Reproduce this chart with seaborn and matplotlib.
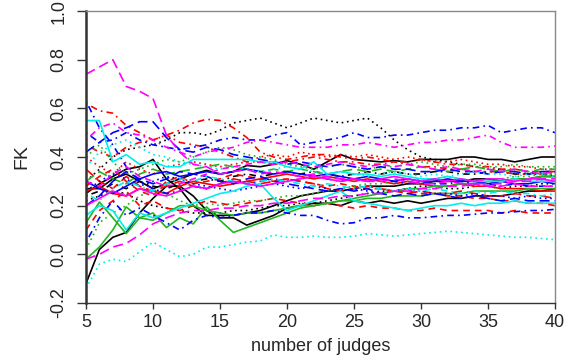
import matplotlib
matplotlib.use("Agg")
import matplotlib.pyplot as plt
import seaborn as sns

sns.set_style("ticks")
plt.rcParams["font.family"] = ["Liberation Sans", "DejaVu Sans"]

# number of judges on the x axis
judges = list(range(5, 41))

# FK agreement per panel size, one list per simulated item
fk_black_solid_a = [-0.12, 0.02, 0.07, 0.09, 0.17, 0.23, 0.28, 0.28, 0.24, 0.18, 0.15, 0.15, 0.12, 0.14, 0.16, 0.19, 0.20, 0.21,
                    0.21, 0.20, 0.22, 0.21, 0.22, 0.21, 0.22, 0.21, 0.22, 0.23, 0.23, 0.24, 0.24, 0.24, 0.25, 0.26, 0.26, 0.27]
fk_black_solid_b = [0.25, 0.29, 0.32, 0.35, 0.36, 0.39, 0.31, 0.27, 0.20, 0.16, 0.16, 0.16, 0.17, 0.18, 0.20, 0.22, 0.24, 0.25,
                    0.26, 0.26, 0.27, 0.28, 0.28, 0.28, 0.29, 0.29, 0.30, 0.30, 0.30, 0.31, 0.31, 0.30, 0.31, 0.31, 0.32, 0.32]
fk_black_solid_c = [0.27, 0.27, 0.31, 0.33, 0.30, 0.27, 0.29, 0.31, 0.33, 0.345, 0.33, 0.34, 0.365, 0.36, 0.37, 0.385, 0.37, 0.35,
                    0.38, 0.41, 0.39, 0.385, 0.38, 0.385, 0.38, 0.39, 0.39, 0.39, 0.40, 0.40, 0.39, 0.39, 0.38, 0.39, 0.40, 0.40]
fk_black_dotted_a = [0.30, 0.35, 0.40, 0.43, 0.44, 0.45, 0.47, 0.50, 0.50, 0.49, 0.51, 0.54, 0.55, 0.56, 0.54, 0.52, 0.54, 0.56,
                     0.55, 0.54, 0.55, 0.56, 0.52, 0.47, 0.43, 0.40, 0.39, 0.38, 0.37, 0.36, 0.35, 0.35, 0.34, 0.33, 0.33, 0.32]
fk_black_dotted_b = [0.22, 0.24, 0.26, 0.25, 0.22, 0.20, 0.19, 0.18, 0.17, 0.17, 0.17, 0.18, 0.18, 0.19, 0.20, 0.20, 0.21, 0.21,
                     0.22, 0.23, 0.24, 0.25, 0.26, 0.26, 0.27, 0.28, 0.28, 0.27, 0.27, 0.28, 0.28, 0.27, 0.28, 0.28, 0.29, 0.29]
fk_black_dashdot = [0.24, 0.26, 0.29, 0.27, 0.30, 0.28, 0.27, 0.29, 0.30, 0.31, 0.30, 0.32, 0.33, 0.32, 0.33, 0.34, 0.33, 0.34,
                    0.33, 0.32, 0.33, 0.34, 0.33, 0.34, 0.33, 0.33, 0.34, 0.34, 0.33, 0.33, 0.34, 0.34, 0.33, 0.33, 0.34, 0.34]
fk_red_dashdot_a = [0.62, 0.59, 0.58, 0.53, 0.50, 0.47, 0.49, 0.46, 0.45, 0.44, 0.42, 0.40, 0.38, 0.38, 0.37, 0.38, 0.39, 0.40,
                    0.39, 0.38, 0.38, 0.37, 0.37, 0.38, 0.37, 0.36, 0.36, 0.35, 0.35, 0.34, 0.34, 0.34, 0.33, 0.33, 0.33, 0.33]
fk_red_dashdot_b = [0.45, 0.42, 0.40, 0.44, 0.46, 0.47, 0.49, 0.51, 0.54, 0.555, 0.55, 0.52, 0.48, 0.42, 0.40, 0.39, 0.40, 0.41,
                    0.41, 0.40, 0.39, 0.40, 0.39, 0.38, 0.38, 0.39, 0.38, 0.37, 0.37, 0.36, 0.36, 0.35, 0.35, 0.34, 0.34, 0.34]
fk_red_dashed_a = [0.28, 0.32, 0.35, 0.30, 0.26, 0.24, 0.30, 0.32, 0.29, 0.30, 0.31, 0.33, 0.32, 0.31, 0.30, 0.31, 0.30, 0.29,
                   0.28, 0.29, 0.28, 0.27, 0.27, 0.26, 0.26, 0.25, 0.25, 0.24, 0.24, 0.23, 0.23, 0.22, 0.22, 0.21, 0.21, 0.20]
fk_red_dashed_b = [0.10, 0.18, 0.22, 0.26, 0.20, 0.22, 0.19, 0.18, 0.20, 0.22, 0.21, 0.20, 0.21, 0.22, 0.23, 0.22, 0.21, 0.20,
                   0.21, 0.20, 0.19, 0.20, 0.19, 0.19, 0.18, 0.18, 0.19, 0.18, 0.18, 0.18, 0.18, 0.17, 0.18, 0.17, 0.17, 0.17]
fk_red_longdash = [0.35, 0.30, 0.27, 0.32, 0.28, 0.26, 0.28, 0.30, 0.28, 0.27, 0.29, 0.31, 0.30, 0.29, 0.30, 0.31, 0.30, 0.29,
                   0.27, 0.26, 0.27, 0.28, 0.27, 0.26, 0.25, 0.26, 0.25, 0.25, 0.26, 0.25, 0.24, 0.24, 0.25, 0.24, 0.24, 0.23]
fk_red_dotted = [0.40, 0.36, 0.33, 0.38, 0.35, 0.33, 0.36, 0.37, 0.38, 0.37, 0.36, 0.37, 0.38, 0.40, 0.41, 0.40, 0.42, 0.41,
                 0.40, 0.41, 0.40, 0.41, 0.40, 0.39, 0.40, 0.39, 0.38, 0.38, 0.39, 0.38, 0.37, 0.37, 0.36, 0.36, 0.35, 0.35]
fk_red_solid = [0.26, 0.28, 0.25, 0.24, 0.27, 0.26, 0.25, 0.28, 0.30, 0.29, 0.28, 0.29, 0.30, 0.31, 0.32, 0.33, 0.32, 0.31,
                0.32, 0.31, 0.30, 0.31, 0.30, 0.29, 0.30, 0.29, 0.28, 0.28, 0.29, 0.28, 0.28, 0.27, 0.27, 0.27, 0.26, 0.26]
fk_green_solid_a = [-0.02, 0.03, 0.10, 0.195, 0.15, 0.17, 0.11, 0.15, 0.125, 0.195, 0.14, 0.09, 0.11, 0.13, 0.15, 0.17, 0.19, 0.20,
                    0.21, 0.22, 0.23, 0.24, 0.25, 0.26, 0.27, 0.27, 0.28, 0.28, 0.29, 0.29, 0.30, 0.30, 0.31, 0.31, 0.32, 0.32]
fk_green_solid_b = [0.13, 0.215, 0.15, 0.085, 0.15, 0.14, 0.17, 0.20, 0.20, 0.18, 0.17, 0.16, 0.17, 0.17, 0.18, 0.19, 0.20, 0.20,
                    0.21, 0.22, 0.22, 0.23, 0.23, 0.24, 0.24, 0.24, 0.25, 0.25, 0.25, 0.26, 0.26, 0.26, 0.26, 0.27, 0.27, 0.27]
fk_green_dotted_a = [0.40, 0.45, 0.38, 0.33, 0.35, 0.37, 0.39, 0.38, 0.40, 0.42, 0.44, 0.43, 0.41, 0.40, 0.39, 0.37, 0.36, 0.35,
                     0.36, 0.37, 0.36, 0.35, 0.36, 0.36, 0.37, 0.38, 0.37, 0.36, 0.37, 0.37, 0.36, 0.36, 0.37, 0.36, 0.36, 0.36]
fk_green_dotted_b = [0.02, 0.13, 0.17, 0.20, 0.24, 0.26, 0.25, 0.22, 0.20, 0.21, 0.20, 0.21, 0.22, 0.22, 0.23, 0.24, 0.24, 0.25,
                     0.26, 0.27, 0.28, 0.29, 0.29, 0.30, 0.30, 0.31, 0.31, 0.32, 0.31, 0.30, 0.31, 0.31, 0.32, 0.32, 0.33, 0.33]
fk_green_longdash = [0.30, 0.34, 0.31, 0.29, 0.33, 0.35, 0.33, 0.34, 0.35, 0.36, 0.37, 0.36, 0.35, 0.34, 0.35, 0.34, 0.35, 0.34,
                     0.33, 0.34, 0.35, 0.34, 0.35, 0.34, 0.35, 0.36, 0.35, 0.34, 0.35, 0.36, 0.35, 0.34, 0.35, 0.34, 0.35, 0.35]
fk_blue_dashdot_a = [0.50, 0.46, 0.47, 0.50, 0.47, 0.45, 0.44, 0.43, 0.44, 0.45, 0.47, 0.48, 0.47, 0.47, 0.49, 0.50, 0.45, 0.46,
                     0.47, 0.48, 0.50, 0.48, 0.48, 0.49, 0.49, 0.50, 0.51, 0.51, 0.52, 0.52, 0.53, 0.50, 0.51, 0.52, 0.52, 0.50]
fk_blue_dashed_a = [0.42, 0.46, 0.50, 0.52, 0.545, 0.545, 0.48, 0.43, 0.42, 0.44, 0.43, 0.41, 0.40, 0.39, 0.38, 0.37, 0.38, 0.37,
                    0.36, 0.37, 0.36, 0.35, 0.36, 0.35, 0.35, 0.34, 0.34, 0.35, 0.34, 0.34, 0.33, 0.34, 0.34, 0.33, 0.34, 0.34]
fk_blue_dashdot_b = [0.63, 0.52, 0.45, 0.36, 0.30, 0.27, 0.25, 0.26, 0.28, 0.27, 0.29, 0.30, 0.29, 0.30, 0.31, 0.30, 0.31, 0.32,
                     0.31, 0.30, 0.31, 0.30, 0.31, 0.30, 0.29, 0.30, 0.29, 0.29, 0.30, 0.29, 0.29, 0.28, 0.29, 0.28, 0.28, 0.28]
fk_blue_dashdot_c = [0.05, 0.15, 0.22, 0.16, 0.19, 0.16, 0.13, 0.10, 0.14, 0.16, 0.15, 0.16, 0.17, 0.17, 0.18, 0.17, 0.16, 0.16,
                     0.14, 0.125, 0.13, 0.15, 0.15, 0.16, 0.15, 0.15, 0.155, 0.16, 0.16, 0.165, 0.17, 0.17, 0.175, 0.18, 0.18, 0.185]
fk_blue_dashed_b = [0.20, 0.24, 0.30, 0.34, 0.31, 0.29, 0.31, 0.34, 0.33, 0.32, 0.30, 0.29, 0.31, 0.32, 0.30, 0.29, 0.28, 0.27,
                    0.26, 0.27, 0.26, 0.27, 0.25, 0.24, 0.25, 0.24, 0.25, 0.24, 0.23, 0.24, 0.23, 0.22, 0.23, 0.22, 0.22, 0.22]
fk_blue_solid = [0.30, 0.27, 0.25, 0.28, 0.31, 0.33, 0.34, 0.32, 0.33, 0.34, 0.33, 0.34, 0.35, 0.34, 0.33, 0.34, 0.33, 0.32,
                 0.33, 0.32, 0.31, 0.32, 0.31, 0.30, 0.31, 0.30, 0.30, 0.31, 0.30, 0.30, 0.29, 0.30, 0.29, 0.29, 0.30, 0.29]
fk_blue_dotted = [0.26, 0.30, 0.33, 0.31, 0.28, 0.30, 0.32, 0.31, 0.29, 0.28, 0.27, 0.26, 0.27, 0.28, 0.29, 0.28, 0.27, 0.28,
                  0.27, 0.26, 0.27, 0.26, 0.25, 0.26, 0.27, 0.26, 0.25, 0.25, 0.24, 0.25, 0.24, 0.24, 0.23, 0.24, 0.23, 0.23]
fk_cyan_solid_a = [0.55, 0.55, 0.38, 0.41, 0.37, 0.38, 0.36, 0.36, 0.39, 0.39, 0.39, 0.39, 0.39, 0.38, 0.38, 0.36, 0.35, 0.38,
                   0.33, 0.34, 0.33, 0.33, 0.32, 0.33, 0.32, 0.31, 0.31, 0.32, 0.31, 0.30, 0.30, 0.30, 0.31, 0.30, 0.30, 0.30]
fk_cyan_solid_b = [0.16, 0.20, 0.18, 0.10, 0.17, 0.15, 0.17, 0.19, 0.21, 0.23, 0.25, 0.26, 0.28, 0.29, 0.23, 0.18, 0.20, 0.22,
                   0.24, 0.26, 0.22, 0.21, 0.20, 0.19, 0.18, 0.19, 0.20, 0.20, 0.21, 0.20, 0.21, 0.21, 0.22, 0.21, 0.21, 0.21]
fk_cyan_dotted_a = [-0.14, -0.04, -0.02, -0.03, 0.01, 0.05, 0.02, -0.01, 0.00, 0.03, 0.03, 0.04, 0.05, 0.055, 0.08, 0.07, 0.07, 0.075,
                    0.07, 0.07, 0.075, 0.085, 0.08, 0.075, 0.08, 0.085, 0.09, 0.095, 0.09, 0.085, 0.08, 0.075, 0.07, 0.07, 0.065, 0.06]
fk_cyan_dotted_b = [0.36, 0.42, 0.45, 0.47, 0.44, 0.41, 0.40, 0.38, 0.37, 0.36, 0.35, 0.36, 0.35, 0.34, 0.35, 0.36, 0.35, 0.34,
                    0.33, 0.34, 0.33, 0.32, 0.33, 0.34, 0.33, 0.32, 0.33, 0.32, 0.33, 0.34, 0.33, 0.33, 0.32, 0.33, 0.33, 0.32]
fk_cyan_dashdot = [0.25, 0.22, 0.27, 0.30, 0.28, 0.26, 0.29, 0.31, 0.30, 0.32, 0.31, 0.30, 0.29, 0.30, 0.31, 0.30, 0.29, 0.28,
                   0.29, 0.28, 0.27, 0.28, 0.27, 0.26, 0.27, 0.26, 0.27, 0.26, 0.25, 0.26, 0.25, 0.26, 0.25, 0.25, 0.24, 0.25]
fk_magenta_longdash_a = [0.74, 0.77, 0.80, 0.69, 0.67, 0.64, 0.49, 0.42, 0.37, 0.36, 0.33, 0.34, 0.35, 0.33, 0.34, 0.33, 0.32, 0.33,
                         0.32, 0.31, 0.31, 0.30, 0.30, 0.31, 0.30, 0.29, 0.29, 0.30, 0.29, 0.29, 0.28, 0.28, 0.29, 0.28, 0.28, 0.28]
fk_magenta_dashdot = [0.47, 0.52, 0.54, 0.50, 0.49, 0.47, 0.44, 0.42, 0.40, 0.42, 0.43, 0.44, 0.46, 0.47, 0.46, 0.45, 0.44, 0.44,
                      0.44, 0.45, 0.45, 0.46, 0.45, 0.44, 0.45, 0.46, 0.46, 0.47, 0.47, 0.48, 0.49, 0.46, 0.44, 0.44, 0.44, 0.445]
fk_magenta_longdash_b = [-0.02, 0.00, 0.03, 0.045, 0.08, 0.125, 0.15, 0.17, 0.18, 0.18, 0.19, 0.19, 0.20, 0.20, 0.21, 0.21, 0.22, 0.23,
                         0.23, 0.24, 0.24, 0.25, 0.25, 0.26, 0.26, 0.27, 0.27, 0.28, 0.28, 0.29, 0.29, 0.29, 0.30, 0.30, 0.31, 0.31]
fk_magenta_dashed = [0.30, 0.28, 0.33, 0.36, 0.32, 0.30, 0.28, 0.29, 0.31, 0.33, 0.35, 0.36, 0.37, 0.38, 0.37, 0.38, 0.37, 0.36,
                     0.37, 0.38, 0.37, 0.36, 0.37, 0.36, 0.37, 0.36, 0.35, 0.36, 0.35, 0.34, 0.35, 0.34, 0.35, 0.34, 0.33, 0.34]
fk_magenta_solid = [0.20, 0.23, 0.26, 0.24, 0.27, 0.25, 0.24, 0.26, 0.28, 0.27, 0.29, 0.30, 0.29, 0.28, 0.29, 0.30, 0.31, 0.32,
                    0.31, 0.30, 0.31, 0.30, 0.31, 0.32, 0.31, 0.30, 0.31, 0.30, 0.31, 0.30, 0.31, 0.31, 0.30, 0.31, 0.31, 0.30]

# R-like palette and line types
BLACK, RED, GREEN, BLUE, CYAN, MAGENTA = "#000000", "#FF0000", "#22B422", "#0000FF", "#00EEEE", "#FF00FF"
SOLID = "-"
DASHED = (0, (4, 3))
DOTTED = (0, (1, 2.2))
DASHDOT = (0, (1, 2.5, 4, 2.5))
LONGDASH = (0, (6, 3))

series = [
    (fk_black_solid_a, BLACK, SOLID),
    (fk_black_solid_b, BLACK, SOLID),
    (fk_black_solid_c, BLACK, SOLID),
    (fk_black_dotted_a, BLACK, DOTTED),
    (fk_black_dotted_b, BLACK, DOTTED),
    (fk_black_dashdot, BLACK, DASHDOT),
    (fk_red_dashdot_a, RED, DASHDOT),
    (fk_red_dashdot_b, RED, DASHDOT),
    (fk_red_dashed_a, RED, DASHED),
    (fk_red_dashed_b, RED, DASHED),
    (fk_red_longdash, RED, LONGDASH),
    (fk_red_dotted, RED, DOTTED),
    (fk_red_solid, RED, SOLID),
    (fk_green_solid_a, GREEN, SOLID),
    (fk_green_solid_b, GREEN, SOLID),
    (fk_green_dotted_a, GREEN, DOTTED),
    (fk_green_dotted_b, GREEN, DOTTED),
    (fk_green_longdash, GREEN, LONGDASH),
    (fk_blue_dashdot_a, BLUE, DASHDOT),
    (fk_blue_dashed_a, BLUE, LONGDASH),
    (fk_blue_dashdot_b, BLUE, DASHDOT),
    (fk_blue_dashdot_c, BLUE, DASHDOT),
    (fk_blue_dashed_b, BLUE, LONGDASH),
    (fk_blue_solid, BLUE, SOLID),
    (fk_blue_dotted, BLUE, DOTTED),
    (fk_cyan_solid_a, CYAN, SOLID),
    (fk_cyan_solid_b, CYAN, SOLID),
    (fk_cyan_dotted_a, CYAN, DOTTED),
    (fk_cyan_dotted_b, CYAN, DOTTED),
    (fk_cyan_dashdot, CYAN, DASHDOT),
    (fk_magenta_longdash_a, MAGENTA, LONGDASH),
    (fk_magenta_dashdot, MAGENTA, DASHDOT),
    (fk_magenta_longdash_b, MAGENTA, LONGDASH),
    (fk_magenta_dashed, MAGENTA, DASHED),
    (fk_magenta_solid, MAGENTA, SOLID),
]

fig = plt.figure(figsize=(5.79, 3.60), dpi=100)
ax = fig.add_axes([86 / 579, 1 - 303 / 360, (555 - 86) / 579, (303 - 11) / 360])

for values, color, style in series:
    sns.lineplot(x=judges, y=values, color=color, linestyle=style, linewidth=1.2,
                 estimator=None, errorbar=None, ax=ax)

ax.set_xlim(5, 40)
ax.set_ylim(-0.2, 1.0)
ax.set_xticks([5, 10, 15, 20, 25, 30, 35, 40])
ax.set_yticks([-0.2, 0.0, 0.2, 0.4, 0.6, 0.8, 1.0])
ax.set_yticklabels(["-0.2", "0.0", "0.2", "0.4", "0.6", "0.8", "1.0"], rotation=90, va="center")
ax.tick_params(axis="x", labelsize=13, length=4, width=1, color="#333333", direction="out", pad=4)
ax.tick_params(axis="y", labelsize=13, length=6.5, width=1, color="#333333", direction="out", pad=7)

for side in ["top", "right"]:
    ax.spines[side].set_color("#888888")
    ax.spines[side].set_linewidth(1.0)
ax.spines["left"].set_color("#333333")
ax.spines["left"].set_linewidth(1.8)
ax.spines["bottom"].set_color("#333333")
ax.spines["bottom"].set_linewidth(1.0)

ax.set_xlabel("number of judges", fontsize=13, labelpad=5)
ax.set_ylabel("FK", fontsize=14, labelpad=14)

fig.savefig("out.png", dpi=100)
